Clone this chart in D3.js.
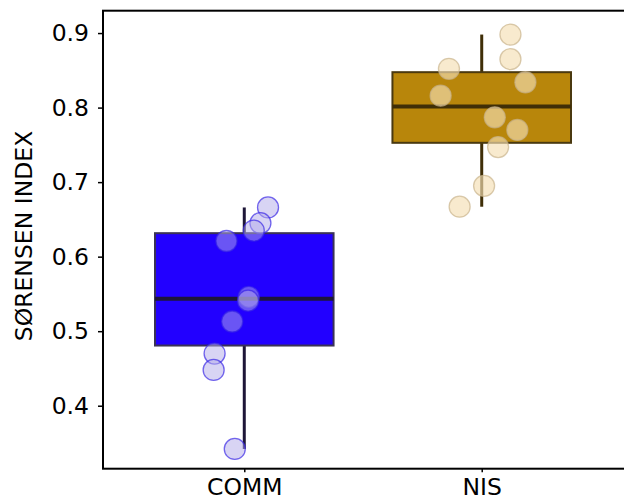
<!DOCTYPE html>
<html>
<head>
<meta charset="utf-8">
<script src="https://cdn.jsdelivr.net/npm/d3@7"></script>
<style>
  body { margin: 0; background: #fff; }
  text { font-family: "DejaVu Sans", sans-serif; }
</style>
</head>
<body>
<svg width="624" height="504"></svg>
<script>
// groups + the sorensen values per group
const groups = ['COMM', 'NIS'];
const commValues = [0.666, 0.645, 0.635, 0.621, 0.546, 0.541, 0.513, 0.470, 0.448, 0.342];
const nisValues = [0.898, 0.865, 0.852, 0.834, 0.816, 0.787, 0.770, 0.747, 0.695, 0.667];
// horizontal jitter of the dots, as a fraction of the category step
const commJitter = [0.100, 0.068, 0.040, -0.075, 0.019, 0.016, -0.051, -0.125, -0.129, -0.040];
const nisJitter = [0.121, 0.121, -0.138, 0.184, -0.173, 0.055, 0.150, 0.069, 0.010, -0.093];
const yTicks = [0.4, 0.5, 0.6, 0.7, 0.8, 0.9];

const values = [commValues, nisValues];
const jitter = [commJitter, nisJitter];

// styles per group
const boxFill = ['#2200ff', '#b8860b'];
const boxEdge = ['#3b3356', '#4a3910'];
const lineCol = ['#1e1638', '#3f2e07'];
const dotFill = ['#b2aaea', '#f5deb3'];
const dotEdge = ['#3a28e6', '#c9b48c'];
const dotFillOp = [0.5, 0.65];
const dotEdgeOp = [0.7, 0.7];

const fontSize = 23.5;

const svg = d3.select('svg');
const mLeft = 103, mTop = 10.7, mBottom = 468.7, mRight = 640;

const y = d3.scaleLinear().domain([0.3155, 0.93]).range([mBottom, mTop]);
const x = d3.scalePoint().domain(groups).range([103, 623]).padding(0.595);
const step = x.step();
const boxW = step * 0.752;

// box stats
const stats = values.map(v => {
  const s = v.slice().sort(d3.ascending);
  const q1 = d3.quantile(s, 0.25), med = d3.quantile(s, 0.5), q3 = d3.quantile(s, 0.75);
  const iqr = q3 - q1;
  const lo = d3.min(s.filter(d => d >= q1 - 1.5 * iqr));
  const hi = d3.max(s.filter(d => d <= q3 + 1.5 * iqr));
  return {q1, med, q3, lo, hi};
});

const g = svg.append('g');

groups.forEach((name, i) => {
  const cx = x(name);
  const st = stats[i];

  // whiskers
  g.append('line')
    .attr('x1', cx).attr('x2', cx)
    .attr('y1', y(st.q3)).attr('y2', y(st.hi))
    .attr('stroke', lineCol[i]).attr('stroke-width', 3);
  g.append('line')
    .attr('x1', cx).attr('x2', cx)
    .attr('y1', y(st.q1)).attr('y2', y(st.lo))
    .attr('stroke', lineCol[i]).attr('stroke-width', 3);

  // box
  g.append('rect')
    .attr('x', cx - boxW / 2).attr('width', boxW)
    .attr('y', y(st.q3)).attr('height', y(st.q1) - y(st.q3))
    .attr('fill', boxFill[i])
    .attr('stroke', boxEdge[i]).attr('stroke-width', 2);

  // median
  g.append('line')
    .attr('x1', cx - boxW / 2).attr('x2', cx + boxW / 2)
    .attr('y1', y(st.med)).attr('y2', y(st.med))
    .attr('stroke', lineCol[i]).attr('stroke-width', 4);

  // dots
  g.selectAll('circle.g' + i).data(values[i])
    .enter().append('circle')
    .attr('class', 'g' + i)
    .attr('cx', (d, j) => cx + jitter[i][j] * step)
    .attr('cy', d => y(d))
    .attr('r', 10.5)
    .attr('fill', dotFill[i]).attr('fill-opacity', dotFillOp[i])
    .attr('stroke', dotEdge[i]).attr('stroke-opacity', dotEdgeOp[i])
    .attr('stroke-width', 1.3);
});

// y axis
const yAxis = svg.append('g')
  .attr('transform', `translate(${mLeft},0)`)
  .call(d3.axisLeft(y).tickValues(yTicks).tickFormat(d3.format('.1f')).tickSize(5).tickPadding(9));
yAxis.select('.domain').remove();
yAxis.selectAll('line').attr('stroke', '#000').attr('stroke-width', 1.5);
yAxis.selectAll('text').attr('font-size', fontSize).attr('fill', '#000').style('font-family', '"DejaVu Sans", sans-serif');

// x axis
const xAxis = svg.append('g')
  .attr('transform', `translate(0,${mBottom})`)
  .call(d3.axisBottom(x).tickSize(3.5).tickPadding(6));
xAxis.select('.domain').remove();
xAxis.selectAll('line').attr('stroke', '#000').attr('stroke-width', 1.5);
xAxis.selectAll('text').attr('font-size', fontSize).attr('fill', '#000').style('font-family', '"DejaVu Sans", sans-serif');

// frame
svg.append('rect')
  .attr('x', mLeft).attr('y', mTop)
  .attr('width', mRight - mLeft).attr('height', mBottom - mTop)
  .attr('fill', 'none').attr('stroke', '#000').attr('stroke-width', 2);

// y label
svg.append('text')
  .attr('transform', 'translate(32,236) rotate(-90)')
  .attr('text-anchor', 'middle')
  .attr('font-size', fontSize)
  .text('SØRENSEN INDEX');
</script>
</body>
</html>
